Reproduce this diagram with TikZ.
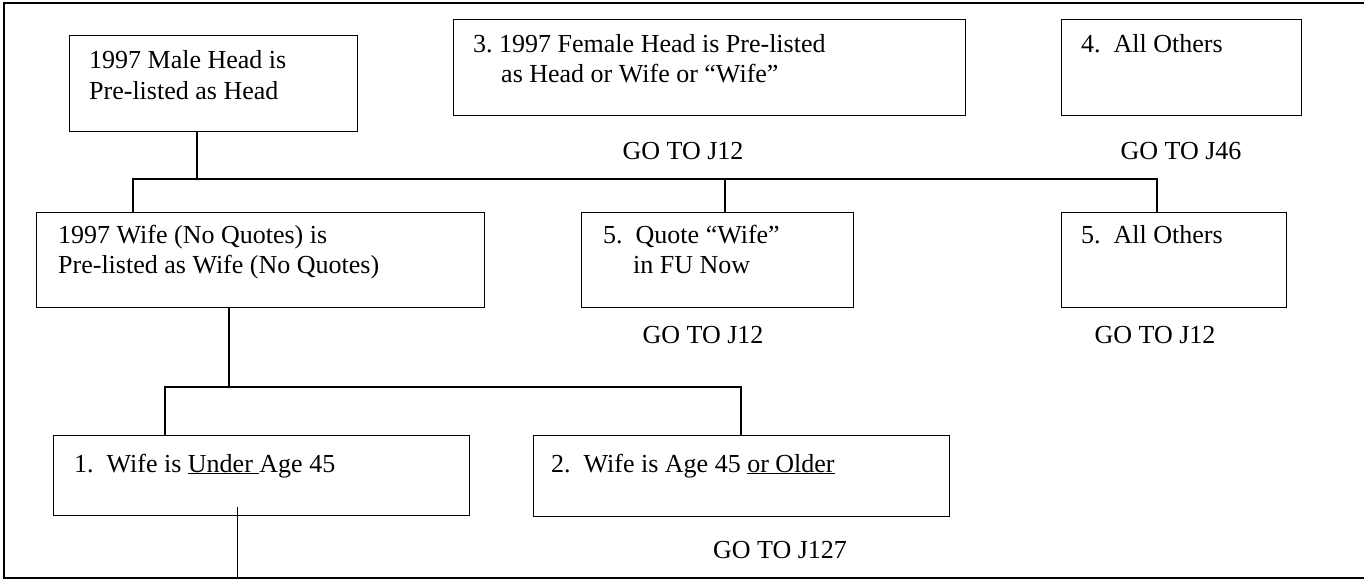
\documentclass[tikz,border=0pt]{standalone}
\usepackage{fontspec}
\setmainfont{Liberation Serif}
\frenchspacing
\begin{document}
\begin{tikzpicture}[x=1pt,y=-1pt,
  box/.style={draw, line width=1.4pt, rectangle, inner sep=0pt, anchor=north west},
  conn/.style={line width=1.4pt},
  thinconn/.style={line width=1pt},
  frameline/.style={line width=1.4pt},
  txt/.style={inner sep=0pt, anchor=base west, font=\fontsize{26}{30}\selectfont},
  goto/.style={inner sep=0pt, anchor=base, font=\fontsize{26}{30}\selectfont}]
\useasboundingbox (0,0) rectangle (1364,580);

% outer frame (right side runs off the page)
\draw[frameline] (1364,3) -- (4,3) -- (4,578) -- (1364,578);

% boxes
\node[box, minimum width=288pt, minimum height=96pt] (male)  at (69,35)   {};
\node[box, minimum width=512pt, minimum height=96pt] (fem)   at (453,19)  {};
\node[box, minimum width=240pt, minimum height=96pt] (oth4)  at (1061,19) {};
\node[box, minimum width=448pt, minimum height=95pt] (wife)  at (36,212)  {};
\node[box, minimum width=272pt, minimum height=95pt] (quote) at (581,212) {};
\node[box, minimum width=225pt, minimum height=95pt] (oth5)  at (1061,212) {};
\node[box, minimum width=416pt, minimum height=80pt] (under) at (53,435)  {};
\node[box, minimum width=416pt, minimum height=81pt] (older) at (533,435) {};

% texts
\node[txt] (male1) at (89,69)  {1997 Male Head is};
\node[txt] (male2) at (89,100) {Pre-listed as Head};
\node[txt] (fem1)  at (473,53) {3. 1997 Female Head is Pre-listed};
\node[txt] (fem2)  at (501,83) {as Head or Wife or “Wife”};
\node[txt] (oth4t) at (1081,53) {4.\ \ All Others};
\node[goto] (g1) at (683,160)  {GO TO J12};
\node[goto] (g2) at (1181,160) {GO TO J46};

\node[txt] (wife1) at (58,243) {1997 Wife (No Quotes) is};
\node[txt] (wife2) at (58,273) {Pre-listed as Wife (No Quotes)};
\node[txt] (q1) at (603,243) {5.\ \ Quote “Wife”};
\node[txt] (q2) at (633,273) {in FU Now};
\node[txt] (oth5t) at (1081,243) {5.\ \ All Others};
\node[goto] (g3) at (703,343)  {GO TO J12};
\node[goto] (g4) at (1155,343) {GO TO J12};

\node[txt] (u1) at (74,472)  {1.\ \ Wife is \underline{Under\ }Age 45};
\node[txt] (o1) at (551,472) {2.\ \ Wife is Age 45 \underline{or Older}};
\node[goto] (g5) at (780,558) {GO TO J127};

% connectors, first level
\coordinate (j1) at (197,179);
\coordinate (b1l) at (133,179);
\coordinate (b1r) at (1157,179);
\coordinate (j2) at (725,179);
\draw[conn] (male.south -| j1) -- (j1);
\draw[conn] (wife.north -| b1l) -- (b1l) -- (b1r) -- (oth5.north -| b1r);
\draw[conn] (j2) -- (quote.north -| j2);

% connectors, second level
\coordinate (j3) at (229,387);
\coordinate (b2l) at (165,387);
\coordinate (b2r) at (741,387);
\draw[conn] (wife.south -| j3) -- (j3);
\draw[conn] (under.north -| b2l) -- (b2l) -- (b2r) -- (older.north -| b2r);

% line leaving box 1 downward
\coordinate (e1) at (237,507);
\coordinate (e2) at (237,578);
\draw[thinconn] (e1) -- (e2);
\end{tikzpicture}
\end{document}
